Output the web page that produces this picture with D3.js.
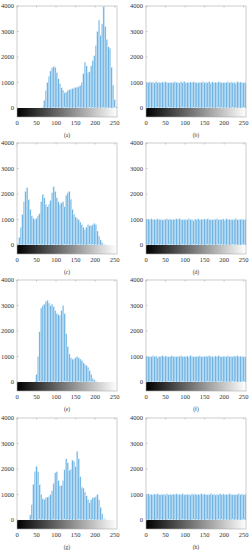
<!DOCTYPE html>
<html>
  <head>
    <meta charset="utf-8">
    <title>histograms</title>
    <style>
      body { margin: 0; background: #fff; }
      text { font-family: "Liberation Serif", "DejaVu Serif", serif; fill: #333; }
    </style>
  </head>
  <body>
    <script src="https://cdn.jsdelivr.net/npm/d3@7"></script>
    <script>
      // counts per grey level, one value per bin of 4 levels (0-3, 4-7, ... 252-255)
      var histA = [0,0,0,0,0,0,0,0,0,0,0,0,0,0,0,0,
        50,300,700,1000,1250,1450,1580,1650,1600,1400,1150,950,800,700,600,620,
        680,720,740,760,790,800,820,850,880,1000,1350,1800,1650,1400,1450,1650,
        1850,2050,2450,3000,3450,2850,3300,4000,3200,2700,2400,2350,1600,900,350,50];
      var histC = [50,300,700,1200,1700,2100,2250,1800,1400,1150,1050,1000,1050,1150,1250,1700,
        2000,1850,1600,1500,1600,1750,2050,2300,2100,1850,1700,1600,1650,1700,1500,1950,
        2050,2100,1800,1400,1200,1100,1050,1000,900,800,700,600,700,800,780,750,
        800,850,800,550,350,200,100,30,0,0,0,0,0,0,0,0];
      var histE = [0,0,0,0,0,0,0,0,0,0,0,30,300,1000,2000,2900,
        3000,3050,3150,3200,3100,3000,3050,2950,2800,2700,2650,2600,2800,3000,2700,1900,
        1400,1100,950,900,900,950,1000,950,900,850,750,700,650,580,450,300,
        150,80,20,0,0,0,0,0,0,0,0,0,0,0,0,0];
      var histG = [0,0,0,0,0,0,0,0,200,600,1400,1900,2100,1900,1400,1000,
        850,800,870,900,920,1000,1150,1450,1850,1900,1550,1350,1350,1550,2000,2400,
        2250,1950,2000,2350,2300,2100,2700,2400,1700,1300,1250,1100,950,800,700,800,
        900,880,920,1000,800,500,250,80,20,0,0,0,0,0,0,0];
      // equalized histograms
      var histB = [1010,990,1030,1000,1020,980,1040,1000,1010,990,1020,1000,1030,990,1010,1000,
        1020,990,1040,1000,1010,980,1030,1000,1050,990,1010,1000,1020,990,1030,1000,
        1010,990,1020,1000,1040,990,1010,1000,1030,980,1020,1000,1010,990,1040,1000,
        1020,990,1010,1000,1030,990,1020,1000,1010,980,1030,1000,1020,990,1010,990];
      var histD = [1000,1020,990,1030,1000,1010,990,1040,1000,1020,980,1010,1000,1030,990,1020,
        1000,1010,990,1030,1000,1040,990,1010,1000,1020,990,1030,1000,1010,980,1020,
        1000,1030,990,1010,1000,1020,990,1040,1000,1010,990,1020,1000,1030,990,1010,
        1000,1020,980,1030,1000,1010,990,1020,1000,1040,990,1010,1000,1020,990,1000];
      var histF = [1020,1000,1010,990,1030,1000,1020,980,1010,1000,1040,990,1020,1000,1010,990,
        1030,1000,1010,990,1020,1000,1030,990,1010,1000,1020,980,1040,1000,1010,990,
        1020,1000,1030,990,1010,1000,1020,990,1030,1000,1010,980,1020,1000,1040,990,
        1010,1000,1020,990,1030,1000,1010,990,1020,1000,1030,990,1010,1000,1020,990];
      var histH = [990,1030,1000,1010,990,1020,1000,1040,990,1010,1000,1020,980,1030,1000,1010,
        990,1020,1000,1030,990,1010,1000,1040,990,1020,1000,1010,980,1030,1000,1020,
        990,1010,1000,1030,990,1020,1000,1010,990,1040,1000,1020,980,1010,1000,1030,
        990,1020,1000,1010,990,1030,1000,1020,990,1010,1000,1040,990,1020,1000,1010];

      var panels = [
        { label: "(a)", data: histA }, { label: "(b)", data: histB },
        { label: "(c)", data: histC }, { label: "(d)", data: histD },
        { label: "(e)", data: histE }, { label: "(f)", data: histF },
        { label: "(g)", data: histG }, { label: "(h)", data: histH }
      ];
      var yTicks = [0, 1000, 2000, 3000, 4000];
      var xTicks = [0, 50, 100, 150, 200, 250];
      var binWidth = 4;

      var width = 252, height = 550;
      var colLeft = [17, 146];     // left edge of each column's axes
      var rowTop = [6, 143, 280, 418];
      var plotW = 100, plotH = 102, barH = 9;

      var svg = d3.select("body").append("svg")
        .attr("width", width)
        .attr("height", height);

      // grey ramp shown under each histogram
      var grad = svg.append("defs").append("linearGradient")
        .attr("id", "ramp")
        .attr("x1", "0%").attr("x2", "100%");
      grad.append("stop").attr("offset", "0%").attr("stop-color", "#000");
      grad.append("stop").attr("offset", "100%").attr("stop-color", "#fff");

      panels.forEach(function(p, i) {
        var x0 = colLeft[i % 2];
        var top = rowTop[Math.floor(i / 2)];
        var zero = top + plotH;

        var x = d3.scaleLinear().domain([0, 256]).range([x0, x0 + plotW]);
        var y = d3.scaleLinear().domain([0, 4000]).range([zero, top]);

        var g = svg.append("g");

        // bars
        g.selectAll("rect.bar")
          .data(p.data)
          .enter()
          .append("rect")
          .attr("class", "bar")
          .attr("x", (d, k) => x(k * binWidth))
          .attr("width", (d, k) => x((k + 1) * binWidth) - x(k * binWidth))
          .attr("y", d => y(d))
          .attr("height", d => zero - y(d))
          .style("fill", "#6fb4e3")
          .style("stroke", "#e8f3fb")
          .style("stroke-width", 0.35);

        // grey ramp
        g.append("rect")
          .attr("x", x(0))
          .attr("y", zero)
          .attr("width", x(256) - x(0))
          .attr("height", barH)
          .style("fill", "url(#ramp)");

        // box
        g.append("rect")
          .attr("x", x(0))
          .attr("y", top)
          .attr("width", x(256) - x(0))
          .attr("height", plotH + barH)
          .style("fill", "none")
          .style("stroke", "#aaa")
          .style("stroke-width", 0.6);

        // y ticks and labels
        g.selectAll("line.yt")
          .data(yTicks)
          .enter()
          .append("line")
          .attr("x1", x(0)).attr("x2", x(0) + 1.5)
          .attr("y1", d => y(d)).attr("y2", d => y(d))
          .style("stroke", "#aaa").style("stroke-width", 0.6);
        g.selectAll("text.yl")
          .data(yTicks)
          .enter()
          .append("text")
          .attr("x", x(0) - 3)
          .attr("y", d => y(d))
          .attr("dy", "0.35em")
          .attr("text-anchor", "end")
          .style("font-size", "6.5px")
          .text(d => d);

        // x ticks on top border, labels under the ramp
        g.selectAll("line.xt")
          .data(xTicks)
          .enter()
          .append("line")
          .attr("x1", d => x(d)).attr("x2", d => x(d))
          .attr("y1", top).attr("y2", top + 1.5)
          .style("stroke", "#aaa").style("stroke-width", 0.6);
        g.selectAll("text.xl")
          .data(xTicks)
          .enter()
          .append("text")
          .attr("x", d => x(d))
          .attr("y", zero + barH + 6)
          .attr("dy", "0.35em")
          .attr("text-anchor", "middle")
          .style("font-size", "6.5px")
          .text(d => d);

        // caption
        g.append("text")
          .attr("x", x0 + plotW / 2)
          .attr("y", zero + 27)
          .attr("dy", "0.35em")
          .attr("text-anchor", "middle")
          .style("font-size", "5.5px")
          .text(p.label);
      });
    </script>
  </body>
</html>
